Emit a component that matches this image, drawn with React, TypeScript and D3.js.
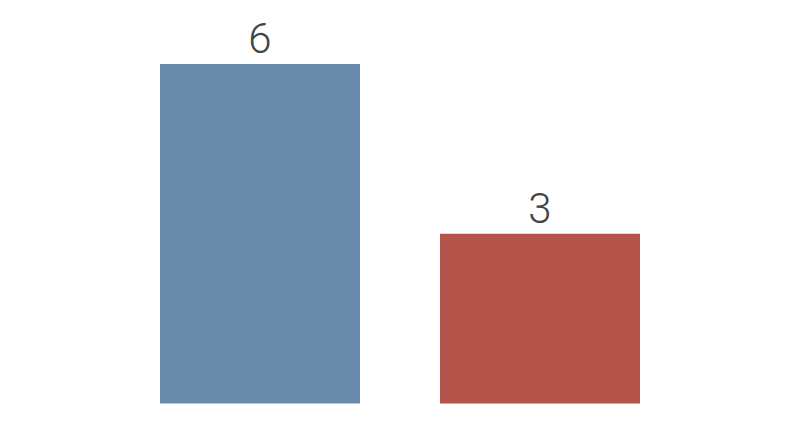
import { scaleBand, scaleLinear } from "d3";

const categories = ["A", "B"];
const values = [6, 3];
const colors = ["#6889a9", "#b5544a"];

export default function App() {
  const width = 800;
  const height = 447;
  const baseline = 403.5;
  const top = 64;

  const x = scaleBand<string>()
    .domain(categories)
    .range([0, width])
    .paddingInner(2 / 7)
    .paddingOuter(4 / 7);
  const y = scaleLinear().domain([0, 6]).range([baseline, top]);

  return (
    <svg
      width={width}
      height={height}
      style={{ position: "absolute", left: 0, top: 0, background: "#fff" }}
    >
      {categories.map((cat, i) => {
        const bx = x(cat) ?? 0;
        const v = values[i];
        return (
          <g key={cat}>
            <rect
              x={bx}
              y={y(v)}
              width={x.bandwidth()}
              height={baseline - y(v)}
              fill={colors[i]}
            />
            <text
              x={bx + x.bandwidth() / 2}
              y={y(v) - 11}
              textAnchor="middle"
              fontFamily="Roboto, 'Helvetica Neue', sans-serif"
              fontWeight={300}
              fontSize={42}
              fill="#444"
            >
              {v}
            </text>
          </g>
        );
      })}
    </svg>
  );
}
